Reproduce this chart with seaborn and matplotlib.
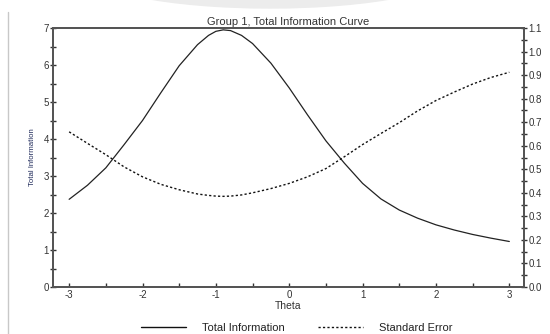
import matplotlib
matplotlib.use("Agg")
import matplotlib.pyplot as plt
from matplotlib.patches import Ellipse
from matplotlib.lines import Line2D
from matplotlib.ticker import MultipleLocator, FormatStrFormatter
import seaborn as sns
import pandas as pd

theta = [-3.0, -2.75, -2.5, -2.25, -2.0, -1.75, -1.5, -1.25, -1.1, -1.0, -0.9, -0.8,
         -0.65, -0.5, -0.25, 0.0, 0.25, 0.5, 0.75, 1.0, 1.25, 1.5, 1.75, 2.0, 2.25,
         2.5, 2.75, 3.0]
total_info = [2.37, 2.75, 3.22, 3.85, 4.50, 5.25, 5.98, 6.55, 6.80, 6.91, 6.95, 6.93,
              6.80, 6.58, 6.05, 5.38, 4.65, 3.95, 3.35, 2.80, 2.38, 2.08, 1.86, 1.68,
              1.54, 1.42, 1.32, 1.23]
std_error = [0.659, 0.610, 0.562, 0.510, 0.468, 0.436, 0.413, 0.395, 0.389, 0.386,
             0.385, 0.386, 0.391, 0.400, 0.418, 0.440, 0.468, 0.503, 0.553, 0.605,
             0.652, 0.698, 0.748, 0.792, 0.828, 0.862, 0.890, 0.912]

title = "Group 1, Total Information Curve"
xlabel = "Theta"
ylabel = "Total Information"
legend_labels = ["Total Information", "Standard Error"]

sns.set_style("white")
plt.rcParams["font.family"] = ["Liberation Sans", "DejaVu Sans"]
plt.rcParams["axes.unicode_minus"] = False

df = pd.DataFrame({"theta": theta, "info": total_info, "se": std_error})

fig = plt.figure(figsize=(5.5, 3.34), dpi=100)
ax = fig.add_axes([53/550, 47/334, (524-53)/550, (287-28)/334])

# decorative background elements
fig.patches.append(Ellipse((270/550, 1 + 30/334), 372/550, 76/334,
                           transform=fig.transFigure, color="#ececec", zorder=0))
fig.lines.append(Line2D([8/550, 8/550], [0, 1 - 12/334], transform=fig.transFigure,
                        color="#c8c8c8", lw=1.0))

sns.lineplot(data=df, x="theta", y="info", ax=ax, color="#222222", lw=0.9)
ax2 = ax.twinx()
sns.lineplot(data=df, x="theta", y="se", ax=ax2, color="#111111", lw=1.0,
             linestyle=(0, (1.6, 1.6)))

ax.set_xlim(-3.22, 3.2)
ax.set_ylim(0, 7)
ax2.set_ylim(0, 1.1)

tick_col = "#333333"
for a in (ax, ax2):
    for s in a.spines.values():
        s.set_color("#555555")
        s.set_linewidth(1.4)

ax.xaxis.set_major_locator(MultipleLocator(1))
ax.xaxis.set_minor_locator(MultipleLocator(0.5))
ax.yaxis.set_major_locator(MultipleLocator(1))
ax.yaxis.set_minor_locator(MultipleLocator(0.5))
ax2.yaxis.set_major_locator(MultipleLocator(0.1))
ax2.yaxis.set_minor_locator(MultipleLocator(0.05))
ax2.yaxis.set_major_formatter(FormatStrFormatter("%.1f"))

ax.tick_params(axis="x", which="both", direction="in", length=3, width=1,
               color="#333333", labelsize=7, labelcolor=tick_col, pad=2,
               bottom=True)
ax.tick_params(axis="y", which="both", direction="inout", length=4, width=1,
               color="#333333", labelsize=7, labelcolor=tick_col, pad=1, left=True)
ax2.tick_params(axis="y", which="both", direction="inout", length=4, width=1,
                color="#333333", labelsize=7, labelcolor=tick_col, pad=1, right=True)

ax.set_title(title, fontsize=8, color="#333333", pad=2.5)
ax.set_xlabel(xlabel, fontsize=7.5, color="#333333", labelpad=1)
ax.set_ylabel(ylabel, fontsize=5.6, color="#1f2a5a", labelpad=5)
ax2.set_ylabel("")

handles = [Line2D([], [], color="#111111", lw=1.0),
           Line2D([], [], color="#111111", lw=1.0, linestyle=(0, (1.6, 1.6)))]
fig.legend(handles, legend_labels, loc="center", bbox_to_anchor=(0.54, 6/334),
           ncol=2, frameon=False, fontsize=8, handlelength=4.0,
           columnspacing=3.0, handletextpad=1.5, labelcolor="#222222",
           borderpad=0.1)

fig.savefig("out.png", dpi=100)
